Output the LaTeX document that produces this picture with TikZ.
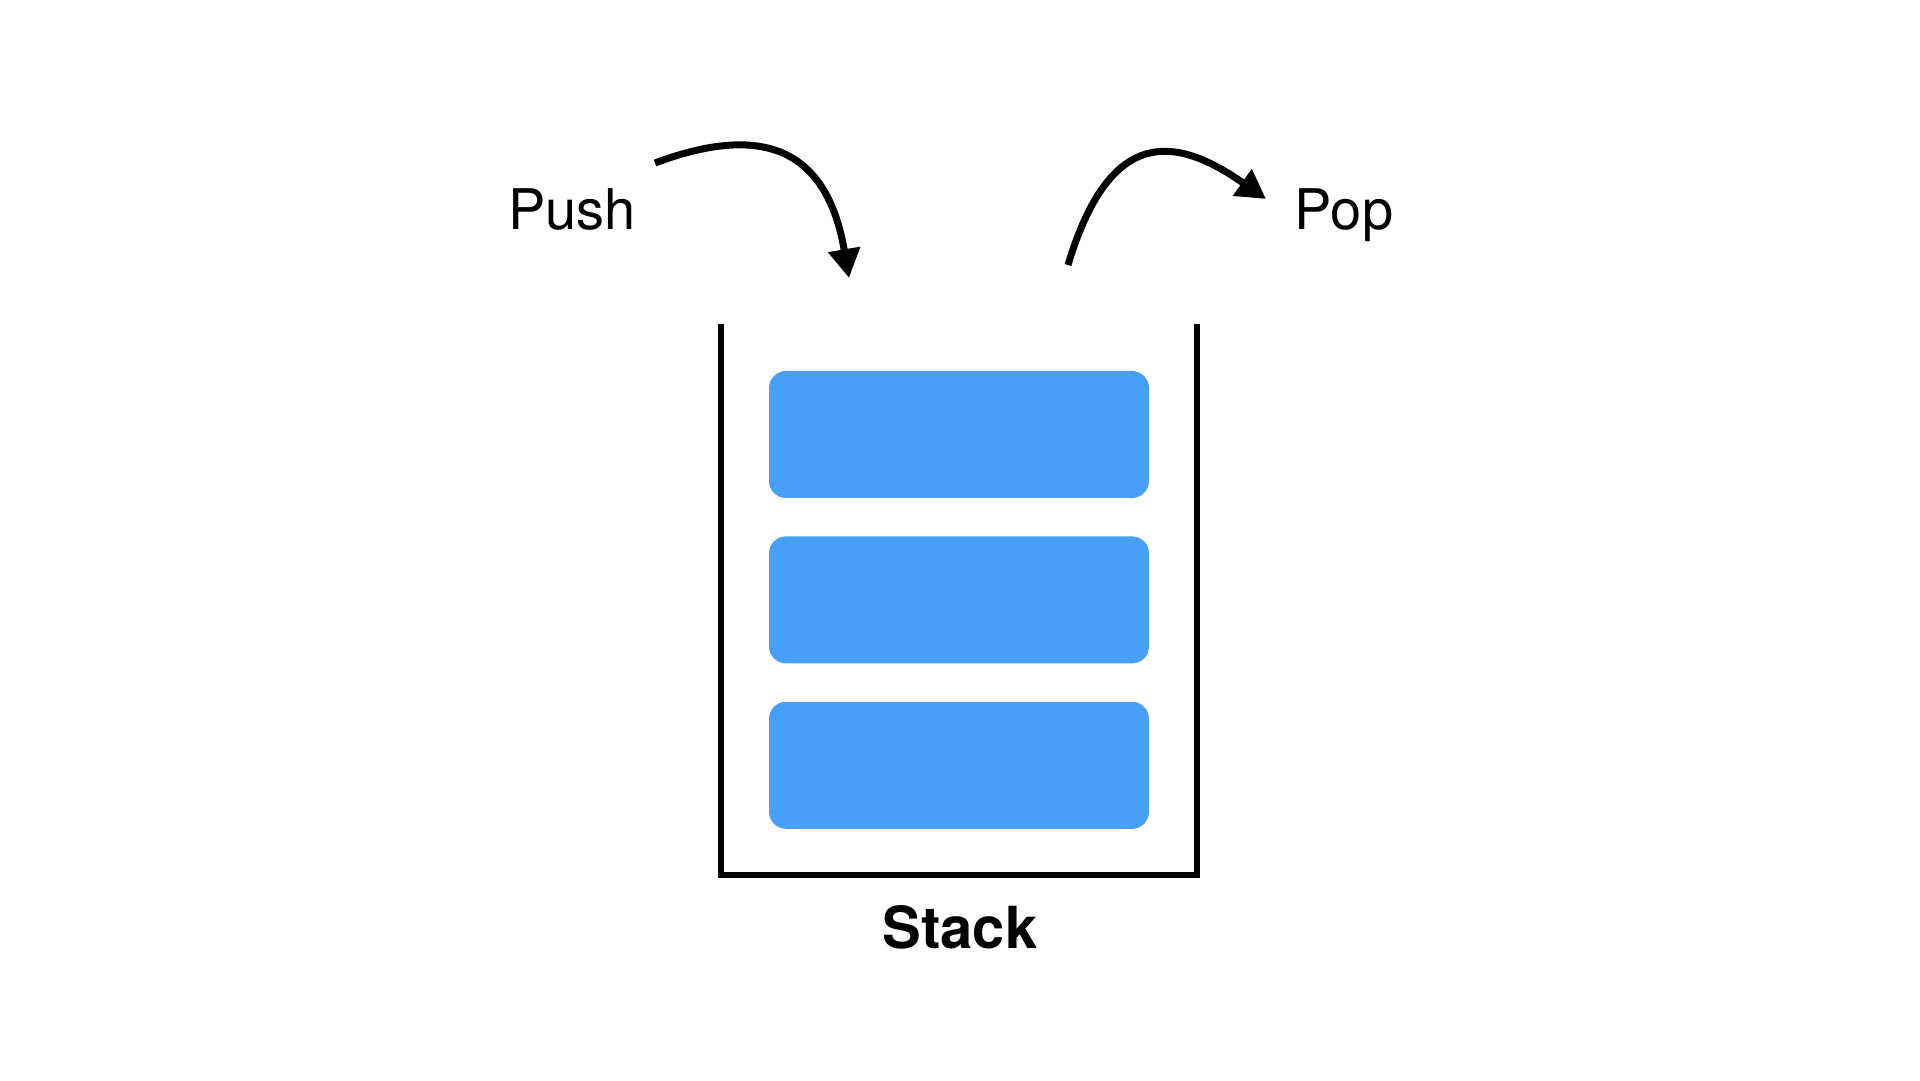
\documentclass[tikz,border=0pt]{standalone}
\usepackage{fontspec}
\setmainfont{TeX Gyre Heros}
\usepackage{tikz}
\usetikzlibrary{arrows.meta}
\usetikzlibrary{positioning}
\definecolor{bloque}{RGB}{71,159,248}

\begin{document}
\begin{tikzpicture}[x=1pt, y=1pt,
  bloque/.style={fill=bloque, rounded corners=17pt, minimum width=380pt, minimum height=127pt, inner sep=0pt},
  etiqueta/.style={font=\fontsize{56}{60}\selectfont, inner sep=0pt, anchor=base},
  flecha/.style={line width=7pt, -{Triangle[length=29pt, width=31pt]}}]
  \useasboundingbox (0,0) rectangle (1920,1080); % marco
  \draw [line width=6.5pt, line join=miter] (721,756) -- (721,205) -- (1197,205) -- (1197,756); % recipiente
  \node [bloque] (arriba) at (959,645.5) {}; % bloque superior
  \node [bloque, below=38pt of arriba] (medio) {};
  \node [bloque, below=38pt of medio] (abajo) {};
  \node [etiqueta] (push) at (572,850) {Push};
  \node [etiqueta] (pop) at (1344,850) {Pop};
  \node [etiqueta, font=\fontsize{58}{62}\selectfont\bfseries] (stack) at (960,132) {Stack};
  \coordinate (push ini) at (655,917);
  \coordinate (push fin) at (849,802);
  \coordinate (pop ini) at (1068,815);
  \coordinate (pop fin) at (1266,881);
  \draw [flecha] (push ini) .. controls (770,960) and (828,925) .. (push fin); % entrada
  \draw [flecha] (pop ini) .. controls (1110,955) and (1176,944) .. (pop fin); % salida
\end{tikzpicture}
\end{document}
